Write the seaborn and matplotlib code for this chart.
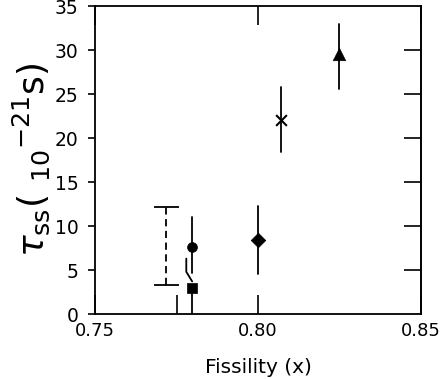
import matplotlib
matplotlib.use("Agg")
import matplotlib.pyplot as plt
import seaborn as sns
import pandas as pd

# Data
labels = ["circle", "square", "diamond", "cross", "triangle"]
fissility = [0.7798, 0.7798, 0.800, 0.807, 0.8248]
tau = [7.6, 2.9, 8.4, 22.1, 29.6]
err_low = [4.7, 0.0, 4.6, 18.4, 25.6]
err_high = [11.0, 6.3, 12.3, 25.8, 33.0]
markers = ["o", "s", "D", "x", "^"]

# dashed error bar without central marker
dash_x = 0.7718
dash_low = 3.3
dash_high = 12.2

x_ticks = [0.75, 0.80, 0.85]
x_ticklabels = ["0.75", "0.80", "0.85"]
y_ticks = [0, 5, 10, 15, 20, 25, 30, 35]

sns.set_style("ticks")
plt.rcParams["font.family"] = ["DejaVu Sans"]
plt.rcParams["mathtext.fontset"] = "dejavusans"
plt.rcParams["text.color"] = "black"
plt.rcParams["axes.labelcolor"] = "black"
plt.rcParams["xtick.color"] = "black"
plt.rcParams["ytick.color"] = "black"

fig = plt.figure(figsize=(4.47, 3.79), dpi=100)
ax = fig.add_axes([0.2125, 0.1715, 0.7295, 0.8125])

df = pd.DataFrame({"label": labels, "x": fissility, "y": tau,
                   "lo": err_low, "hi": err_high, "m": markers})

# error bars
for i, r in df.iterrows():
    if r["label"] == "square":
        ax.plot([r["x"], r["x"]], [r["lo"], r["y"]], color="black", lw=1.3)
        kx = r["x"] - 0.0018
        ax.plot([r["x"], kx, kx], [r["y"] + 0.8, r["y"] + 1.9, r["hi"]],
                color="black", lw=1.3)
    else:
        ax.plot([r["x"], r["x"]], [r["lo"], r["hi"]], color="black", lw=1.3)

ax.errorbar([dash_x], [(dash_low + dash_high) / 2],
            yerr=[[(dash_high - dash_low) / 2], [(dash_high - dash_low) / 2]],
            fmt="none", ecolor="black", elinewidth=1.3, capsize=9, capthick=1.3)
for coll in ax.collections:
    coll.set_linestyle((0, (4, 2.5)))

sizes = {"o": 50, "s": 60, "D": 55, "x": 60, "^": 80}
for _, r in df.iterrows():
    sns.scatterplot(x=[r["x"]], y=[r["y"]], marker=r["m"], s=sizes[r["m"]],
                    color="black", edgecolor="black",
                    linewidth=1.5 if r["m"] == "x" else 0.5, ax=ax, zorder=5)

ax.set_xlim(0.75, 0.85)
ax.set_ylim(0, 35)
ax.set_xticks(x_ticks)
ax.set_xticklabels(x_ticklabels)
ax.set_xticks([0.775], minor=True)
ax.set_yticks(y_ticks)

ax.tick_params(axis="x", which="major", direction="in", length=14, width=1.2,
               labelsize=13, top=True, bottom=True, pad=6)
ax.tick_params(axis="x", which="minor", direction="in", length=14, width=1.2,
               top=False, bottom=True)
ax.tick_params(axis="y", direction="out", length=5, width=1.2, labelsize=13.5,
               right=False, pad=7)

# right side inward ticks without labels
sec = ax.secondary_yaxis("right")
sec.set_yticks(y_ticks[1:-1])
sec.tick_params(direction="in", length=12, width=1.2, labelright=False)
sec.spines["right"].set_linewidth(1.3)

for s in ax.spines.values():
    s.set_visible(True)
    s.set_linewidth(1.3)
    s.set_color("black")

ax.set_xlabel("Fissility (x)", fontsize=14.5, labelpad=13)
ax.set_ylabel(r"$\tau_{\rm ss}$( $_{10}$$^{-21}$s)", fontsize=26, labelpad=2)

fig.savefig("out.png", dpi=100)
